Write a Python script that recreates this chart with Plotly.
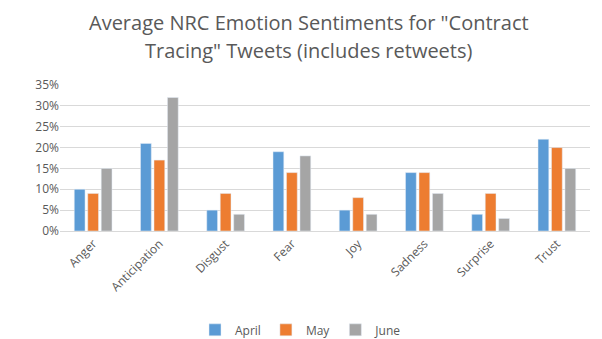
import plotly.graph_objects as go

categories = ["Anger", "Anticipation", "Disgust", "Fear", "Joy", "Sadness", "Surprise", "Trust"]
april = [0.10, 0.21, 0.05, 0.19, 0.05, 0.14, 0.04, 0.22]
may = [0.09, 0.17, 0.09, 0.14, 0.08, 0.14, 0.09, 0.20]
june = [0.15, 0.32, 0.04, 0.18, 0.04, 0.09, 0.03, 0.15]
tick_vals = [0, 0.05, 0.10, 0.15, 0.20, 0.25, 0.30, 0.35]
tick_text = ["0%", "5%", "10%", "15%", "20%", "25%", "30%", "35%"]
title_lines = ["Average NRC Emotion Sentiments for \"Contract", "Tracing\" Tweets (includes retweets)"]

fig = go.Figure()
fig.add_bar(x=categories, y=april, name="April", marker_color="#5B9BD5")
fig.add_bar(x=categories, y=may, name="May", marker_color="#ED7D31")
fig.add_bar(x=categories, y=june, name="June", marker_color="#A5A5A5")

font_family = "Open Sans, Noto Sans, sans-serif"
for i, line in enumerate(title_lines):
    fig.add_annotation(text=line, xref="paper", yref="paper", x=0.47, y=1,
                       xanchor="center", yanchor="middle", yshift=63 - 28 * i,
                       showarrow=False, font=dict(size=20, color="#595959", family=font_family))

fig.update_layout(
    width=602, height=339,
    margin=dict(l=60, r=12, t=85, b=108),
    paper_bgcolor="white", plot_bgcolor="white",
    barmode="group", bargap=0.39, bargroupgap=0.2,
    font=dict(family=font_family, color="#595959", size=12),
    legend=dict(orientation="h", x=0.5, xref="container", xanchor="center",
                y=0.027, yref="container", yanchor="middle",
                font=dict(size=12, color="#595959"), itemwidth=30, traceorder="normal"),
    xaxis=dict(tickangle=-45, showline=True, linecolor="#D9D9D9", ticks="",
               automargin=False, tickfont=dict(size=12, color="#595959")),
    yaxis=dict(range=[0, 0.35], tickvals=tick_vals, ticktext=tick_text, automargin=False,
               showgrid=True, gridcolor="#D9D9D9", zeroline=False,
               tickfont=dict(size=12, color="#595959"), ticklen=0),
)
fig.write_html("out.html")
